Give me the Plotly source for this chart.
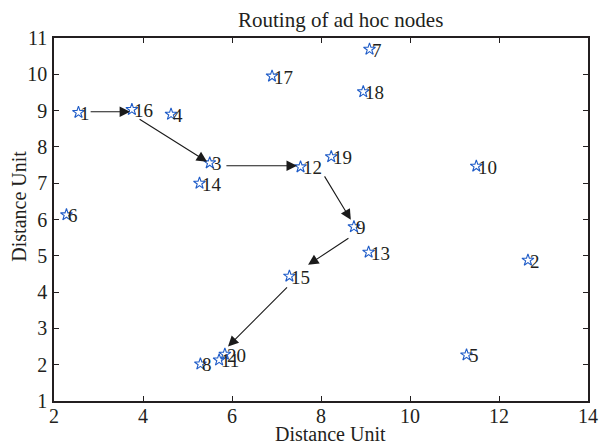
import plotly.graph_objects as go

node_id = list(range(1, 21))
node_x = [2.55, 12.65, 5.50, 4.63, 11.27, 2.28, 9.09, 5.29, 8.74, 11.49,
          5.71, 7.54, 9.07, 5.27, 7.29, 3.75, 6.90, 8.95, 8.23, 5.84]
node_y = [8.95, 4.88, 7.56, 8.90, 2.27, 6.13, 10.69, 2.02, 5.80, 7.47,
          2.13, 7.45, 5.10, 7.00, 4.44, 9.03, 9.95, 9.52, 7.73, 2.29]

# route arrows (tail -> head)
arrow_x0 = [2.79, 3.89, 5.84, 8.06, 8.65, 7.27]
arrow_y0 = [8.97, 8.79, 7.48, 7.23, 5.51, 4.17]
arrow_x1 = [3.71, 5.44, 7.46, 8.67, 7.71, 5.91]
arrow_y1 = [8.97, 7.59, 7.48, 5.99, 4.75, 2.50]

x_ticks = [2, 4, 6, 8, 10, 12, 14]
y_ticks = list(range(1, 12))

FONT = "Liberation Serif"
INK = "#231f20"
W, H = 605, 443
ML, MR, MT, MB = 54, 7, 38, 42
PW, PH = W - ML - MR, H - MT - MB

fig = go.Figure()
fig.add_trace(go.Scatter(
    x=node_x, y=node_y, mode="markers",
    marker=dict(symbol="star-open", size=9, color="#1f5cc8",
                line=dict(width=1.1, color="#1f5cc8")),
    hoverinfo="skip", showlegend=False,
))

annotations = []
for i, x, y in zip(node_id, node_x, node_y):
    annotations.append(dict(x=x, y=y, xref="x", yref="y", text=str(i),
                            showarrow=False, xanchor="left", yanchor="middle",
                            xshift=0, yshift=-1,
                            font=dict(family=FONT, size=19, color=INK)))
for x0, y0, x1, y1 in zip(arrow_x0, arrow_y0, arrow_x1, arrow_y1):
    annotations.append(dict(x=x1, y=y1, ax=x0, ay=y0, xref="x", yref="y",
                            axref="x", ayref="y", text="", showarrow=True,
                            arrowhead=2, arrowsize=1.9, arrowwidth=1.1,
                            arrowcolor="#1a1a1a"))

# title and axis titles (positioned as in the reference)
annotations.append(dict(text="Routing of ad hoc nodes", xref="paper", yref="paper",
                        x=(346 - ML) / PW, y=1 + (MT - 20) / PH,
                        xanchor="center", yanchor="middle", showarrow=False,
                        font=dict(family=FONT, size=21, color=INK)))
annotations.append(dict(text="Distance Unit", xref="paper", yref="paper",
                        x=(336 - ML) / PW, y=-(434 - MT - PH) / PH,
                        xanchor="center", yanchor="middle", showarrow=False,
                        font=dict(family=FONT, size=20, color=INK)))
annotations.append(dict(text="Distance Unit", xref="paper", yref="paper",
                        x=(18 - ML) / PW, y=(MT + PH - 206) / PH,
                        xanchor="center", yanchor="middle", showarrow=False,
                        textangle=-90,
                        font=dict(family=FONT, size=20, color=INK)))

axis_common = dict(showgrid=False, zeroline=False, ticks="inside", ticklen=5,
                   tickwidth=1, tickcolor=INK, showline=True, linecolor=INK,
                   linewidth=1.5, mirror="ticks", ticklabeloverflow="allow",
                   tickfont=dict(family=FONT, size=20, color=INK))

fig.update_layout(
    width=W, height=H,
    margin=dict(l=ML, r=MR, t=MT, b=MB),
    paper_bgcolor="white", plot_bgcolor="white",
    xaxis=dict(range=[2, 14], tickvals=x_ticks, ticklabelstandoff=-4, **axis_common),
    yaxis=dict(range=[1, 11], tickvals=y_ticks, ticklabelstandoff=1, **axis_common),
    annotations=annotations,
)

fig.write_html("out.html")
